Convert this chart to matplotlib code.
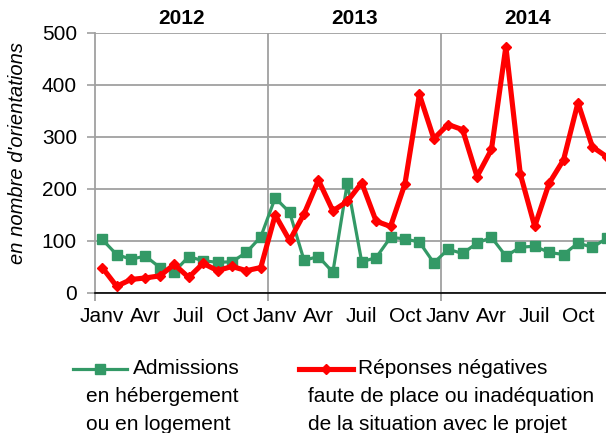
import matplotlib
matplotlib.use("Agg")
import matplotlib.pyplot as plt
from matplotlib.lines import Line2D
import numpy as np

plt.rcParams['font.family'] = ['Liberation Sans', 'DejaVu Sans']

years = ["2012", "2013", "2014"]
month_labels = ["Janv", "Avr", "Juil", "Oct"]

admissions = [103, 74, 65, 71, 49, 41, 70, 62, 59, 60, 78, 108,
              183, 155, 63, 70, 40, 211, 60, 68, 107, 104, 98, 58,
              84, 76, 96, 107, 71, 88, 90, 78, 74, 96, 88, 105]
refus = [49, 13, 26, 29, 33, 55, 30, 57, 43, 51, 43, 49,
         150, 101, 152, 217, 158, 176, 212, 138, 128, 210, 382, 297,
         324, 314, 224, 276, 474, 229, 128, 211, 256, 366, 281, 262]

label_adm = ["Admissions", "en hébergement", "ou en logement"]
label_ref = ["Réponses négatives", "faute de place ou inadéquation",
             "de la situation avec le projet"]

W, H = 606, 433
fig = plt.figure(figsize=(W / 100, H / 100), dpi=100)
L, R, T, B = 95, 614, 33, 293
ax = fig.add_axes([L / W, 1 - B / H, (R - L) / W, (B - T) / H])

x = np.arange(len(admissions))
green = "#339966"
red = "#FF0000"
grid_c = "#A0A0A0"

ax.plot(x, admissions, color=green, lw=2.3, marker="s", ms=7.5, mec=green,
        mfc=green, zorder=3)
ax.plot(x, refus, color=red, lw=3.7, marker="D", ms=5.5, mec=red,
        mfc=red, zorder=4)

ax.set_xlim(-0.5, len(admissions) - 0.5)
ax.set_ylim(0, 500)
ax.set_yticks(np.arange(0, 501, 100))
ax.yaxis.grid(True, color=grid_c, lw=1.3)
ax.set_axisbelow(True)
for s in ["top", "right"]:
    ax.spines[s].set_visible(False)
ax.spines["left"].set_color(grid_c)
ax.spines["left"].set_linewidth(1.3)
ax.spines["bottom"].set_color("black")
ax.spines["bottom"].set_linewidth(1.2)
ax.tick_params(axis="y", length=6, width=1.2, color=grid_c, labelsize=15,
               pad=7)

# year boundaries
bounds = [-0.5 + 12 * i for i in range(len(years))]
for b in bounds[1:]:
    ax.axvline(b, color=grid_c, lw=1.3, zorder=1)
ax.set_xticks(bounds, minor=True)
ax.tick_params(axis="x", which="minor", length=6, width=1.3, color=grid_c)

# month labels
pos = [12 * i + 3 * j for i in range(len(years)) for j in range(len(month_labels))]
labs = [month_labels[j] for i in range(len(years)) for j in range(len(month_labels))]
ax.set_xticks(pos)
ax.set_xticklabels(labs, fontsize=15)
ax.tick_params(axis="x", which="major", length=0, pad=10)

# year labels
for i, yname in enumerate(years):
    ax.text(bounds[i] + 6, 1.02, yname, transform=ax.get_xaxis_transform(),
            ha="center", va="bottom", fontsize=15, fontweight="bold")

fig.text(18 / W, 1 - 153 / H, "en nombre d'orientations", rotation=90,
         ha="center", va="center", fontsize=14.5, style="italic")

# legend
def fx(px):
    return px / W

def fy(py):
    return 1 - py / H

ly = 369
fig.add_artist(Line2D([fx(73), fx(127)], [fy(ly), fy(ly)], color=green,
                      lw=2.3, transform=fig.transFigure))
fig.add_artist(Line2D([fx(100)], [fy(ly)], color=green, marker="s", ms=7.5,
                      transform=fig.transFigure))
fig.add_artist(Line2D([fx(299), fx(353)], [fy(ly), fy(ly)], color=red,
                      lw=3.7, transform=fig.transFigure))
fig.add_artist(Line2D([fx(326)], [fy(ly)], color=red, marker="D", ms=5.5,
                      transform=fig.transFigure))

fs = 15
fig.text(fx(133), fy(ly), label_adm[0], ha="left", va="center", fontsize=fs)
fig.text(fx(86), fy(ly + 28), label_adm[1], ha="left", va="center", fontsize=fs)
fig.text(fx(86), fy(ly + 55), label_adm[2], ha="left", va="center", fontsize=fs)
fig.text(fx(358), fy(ly), label_ref[0], ha="left", va="center", fontsize=fs)
fig.text(fx(308), fy(ly + 28), label_ref[1], ha="left", va="center", fontsize=fs)
fig.text(fx(308), fy(ly + 55), label_ref[2], ha="left", va="center", fontsize=fs)

fig.savefig("out.png", dpi=100)
